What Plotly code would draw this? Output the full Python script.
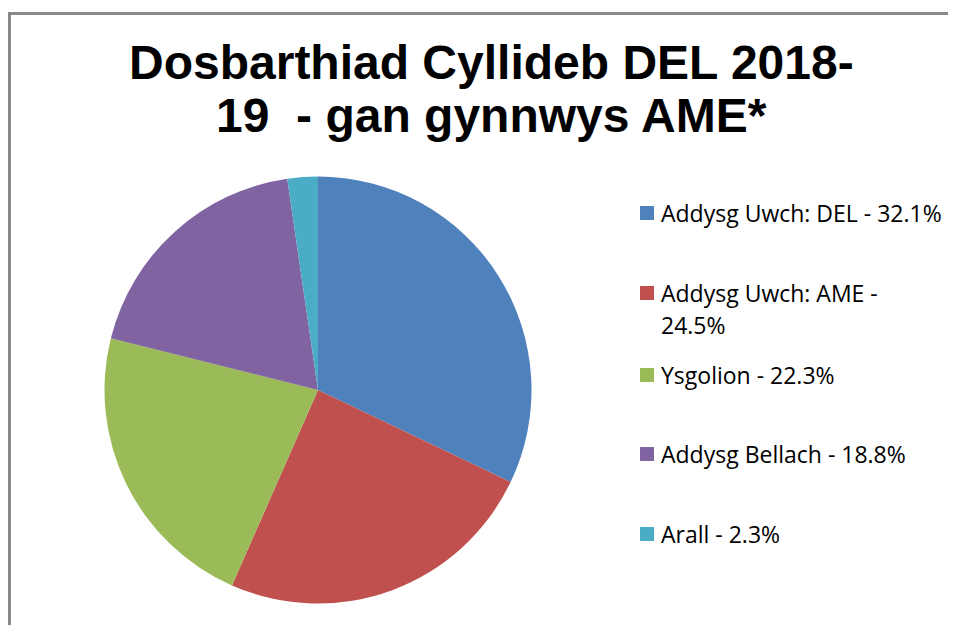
import plotly.graph_objects as go

categories = ["Addysg Uwch: DEL", "Addysg Uwch: AME", "Ysgolion", "Addysg Bellach", "Arall"]
values = [32.1, 24.5, 22.3, 18.8, 2.3]
colors = ["#4F81BD", "#C0504D", "#9BBB59", "#8064A2", "#4BACC6"]
title_lines = ["Dosbarthiad Cyllideb DEL 2018-", "19  - gan gynnwys AME*"]

W, H = 956, 625
OX, OY = 8, 8  # page body margin offset

def px(x):
    return (x - OX) / W

def py(y):
    return 1 - (y - OY) / H

cx, cy, r = 318, 390, 213.5

fig = go.Figure(go.Pie(
    labels=categories,
    values=values,
    marker=dict(colors=colors, line=dict(width=0)),
    sort=False,
    direction="clockwise",
    rotation=0,
    textinfo="none",
    hoverinfo="label+percent",
    showlegend=False,
    domain=dict(x=[px(cx - r), px(cx + r)], y=[py(cy + r), py(cy - r)]),
))

annotations = []
title_y = [63, 115]
for t, yy in zip(title_lines, title_y):
    annotations.append(dict(
        text=f"<b>{t}</b>", x=px(491), y=py(yy), xref="paper", yref="paper",
        xanchor="center", yanchor="middle", showarrow=False,
        font=dict(family="Liberation Sans, Arial, sans-serif", size=48, color="#000000"),
    ))

legend_y = [213, 293, 375, 454, 534]
wrap = {1: 18}  # the original wraps this legend entry
shapes = []
for i, (cat, val, col, yy) in enumerate(zip(categories, values, colors, legend_y)):
    shapes.append(dict(type="rect", xref="paper", yref="paper",
                       x0=px(640), x1=px(654), y0=py(yy + 7), y1=py(yy - 7),
                       fillcolor=col, line=dict(width=0)))
    label = f"{cat} - {val}%"
    lines = [label]
    if i in wrap:
        lines = [label[:wrap[i]], label[wrap[i]:].strip()]
    for j, ln in enumerate(lines):
        annotations.append(dict(
            text=ln, x=px(659), y=py(yy + 32 * j), xref="paper", yref="paper",
            xanchor="left", yanchor="middle", showarrow=False,
            font=dict(family="Open Sans, Lato, sans-serif", size=23, color="#000000"),
        ))

shapes.append(dict(type="line", xref="paper", yref="paper",
                   x0=px(9.5), x1=px(9.5), y0=py(640), y1=py(12),
                   line=dict(color="#888888", width=3)))
shapes.append(dict(type="line", xref="paper", yref="paper",
                   x0=px(8), x1=px(970), y0=py(13.5), y1=py(13.5),
                   line=dict(color="#888888", width=3)))

fig.update_layout(
    width=W, height=H,
    margin=dict(l=0, r=0, t=0, b=0),
    paper_bgcolor="#FFFFFF",
    plot_bgcolor="#FFFFFF",
    annotations=annotations,
    shapes=shapes,
)

fig.write_html("out.html")
